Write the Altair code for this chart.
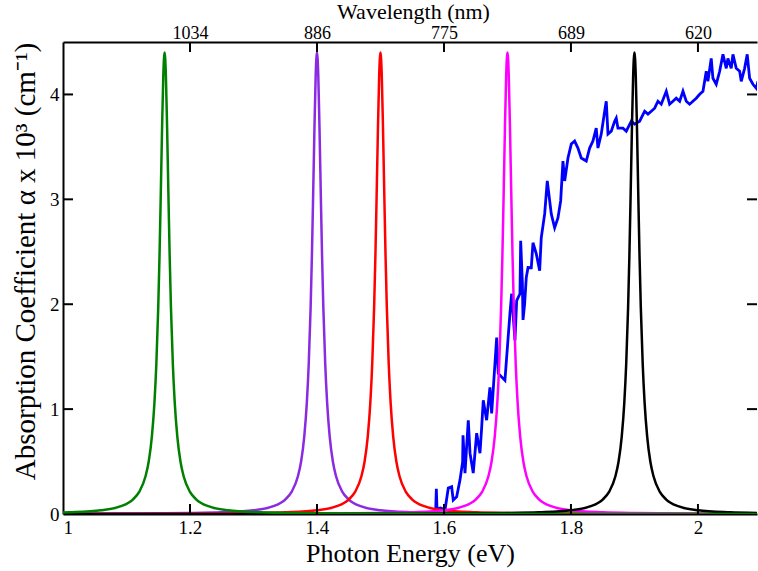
import altair as alt
import pandas as pd

# ---------------- data ----------------
x_ticks = [1, 1.2, 1.4, 1.6, 1.8, 2]
top_labels = ['1034', '886', '775', '689', '620']
y_ticks = [0, 1, 2, 3, 4]

# Peak profile heights (same for the five resonance peaks)
peak_y = [0.00036, 0.001, 0.0022, 0.004, 0.0089, 0.016, 0.035, 0.072, 0.138, 0.21,
          0.36, 0.50, 0.74, 1.06, 1.43, 1.97, 2.46, 3.05, 3.67, 4.19, 4.40,
          4.19, 3.67, 3.05, 2.46, 1.97, 1.43, 1.06, 0.74, 0.50, 0.36,
          0.21, 0.138, 0.072, 0.035, 0.016, 0.0089, 0.004, 0.0022, 0.001, 0.00036]

green_x = [0.16, 0.56, 0.76, 0.86, 0.96, 1.01, 1.06, 1.09, 1.11, 1.12, 1.13, 1.135, 1.14,
           1.144, 1.147, 1.15, 1.152, 1.154, 1.156, 1.158, 1.16, 1.162, 1.164, 1.166,
           1.168, 1.17, 1.173, 1.176, 1.18, 1.185, 1.19, 1.2, 1.21, 1.23, 1.26, 1.31,
           1.36, 1.46, 1.56, 1.76, 2.16]
purple_x = [0.40, 0.80, 1.00, 1.10, 1.20, 1.25, 1.30, 1.33, 1.35, 1.36, 1.37, 1.375, 1.38,
            1.384, 1.387, 1.39, 1.392, 1.394, 1.396, 1.398, 1.40, 1.402, 1.404, 1.406,
            1.408, 1.41, 1.413, 1.416, 1.42, 1.425, 1.43, 1.44, 1.45, 1.47, 1.50, 1.55,
            1.60, 1.70, 1.80, 2.00, 2.40]
red_x = [0.50, 0.90, 1.10, 1.20, 1.30, 1.35, 1.40, 1.43, 1.45, 1.46, 1.47, 1.475, 1.48,
         1.484, 1.487, 1.49, 1.492, 1.494, 1.496, 1.498, 1.50, 1.502, 1.504, 1.506,
         1.508, 1.51, 1.513, 1.516, 1.52, 1.525, 1.53, 1.54, 1.55, 1.57, 1.60, 1.65,
         1.70, 1.80, 1.90, 2.10, 2.50]
magenta_x = [0.70, 1.10, 1.30, 1.40, 1.50, 1.55, 1.60, 1.63, 1.65, 1.66, 1.67, 1.675, 1.68,
             1.684, 1.687, 1.69, 1.692, 1.694, 1.696, 1.698, 1.70, 1.702, 1.704, 1.706,
             1.708, 1.71, 1.713, 1.716, 1.72, 1.725, 1.73, 1.74, 1.75, 1.77, 1.80, 1.85,
             1.90, 2.00, 2.10, 2.30, 2.70]
black_x = [0.90, 1.30, 1.50, 1.60, 1.70, 1.75, 1.80, 1.83, 1.85, 1.86, 1.87, 1.875, 1.88,
           1.884, 1.887, 1.89, 1.892, 1.894, 1.896, 1.898, 1.90, 1.902, 1.904, 1.906,
           1.908, 1.91, 1.913, 1.916, 1.92, 1.925, 1.93, 1.94, 1.95, 1.97, 2.00, 2.05,
           2.10, 2.20, 2.30, 2.50, 2.90]

# Measured absorption spectrum (blue)
blue_x = [1.587, 1.588, 1.589, 1.5948, 1.6016, 1.6068, 1.6121, 1.6146, 1.620, 1.6252,
          1.6294, 1.630, 1.6331, 1.6383, 1.641, 1.6461, 1.6515, 1.6567, 1.6594, 1.6619,
          1.6672, 1.6724, 1.6751, 1.683, 1.6855, 1.696, 1.6987, 1.7039, 1.7066, 1.7118,
          1.7145, 1.7197, 1.7208, 1.7235, 1.7245, 1.727, 1.7296, 1.7324, 1.7375, 1.7402,
          1.7454, 1.7507, 1.7532, 1.7586, 1.7627, 1.7665, 1.769, 1.7743, 1.7795, 1.7838,
          1.7874, 1.7901, 1.7953, 1.8005, 1.8058, 1.811, 1.8162, 1.8241, 1.8294, 1.8346,
          1.8398, 1.8425, 1.8477, 1.8531, 1.8556, 1.8583, 1.8635, 1.8688, 1.8713, 1.874,
          1.8819, 1.8871, 1.895, 1.9003, 1.9082, 1.9161, 1.9213, 1.9265, 1.9318, 1.937,
          1.9422, 1.9501, 1.9554, 1.9606, 1.9658, 1.9712, 1.9764, 1.9816, 1.9869, 1.9921,
          1.9973, 2.0027, 2.0079, 2.0131, 2.0157, 2.0209, 2.0236, 2.0288, 2.0342, 2.0394,
          2.0446, 2.0472, 2.0524, 2.0551, 2.0603, 2.0657, 2.0682, 2.0735, 2.0776, 2.0814,
          2.0866, 2.0918, 2.0945]
blue_y = [0.04, 0.24, 0.05, 0.057, 0.038, 0.247, 0.26, 0.133, 0.164, 0.323,
          0.497, 0.751, 0.39, 0.894, 0.58, 0.39, 0.77, 0.58, 0.827, 1.084,
          0.894, 1.207, 0.96, 1.683, 1.34, 1.274, 1.492, 1.911, 2.10, 1.654,
          2.034, 2.10, 2.605, 2.20, 1.85, 2.0, 2.253, 2.35, 2.348, 2.586,
          2.481, 2.319, 2.633, 2.861, 3.175, 2.985, 2.861, 2.729, 2.823, 2.985,
          3.365, 3.175, 3.394, 3.527, 3.555, 3.489, 3.394, 3.365, 3.489, 3.555,
          3.679, 3.489, 3.622, 3.84, 3.935, 3.622, 3.65, 3.745, 3.774, 3.679,
          3.679, 3.65, 3.745, 3.717, 3.745, 3.84, 3.812, 3.84, 3.869, 3.935,
          3.907, 4.03, 3.907, 3.935, 3.964, 3.935, 4.03, 3.935, 3.907, 3.935,
          3.964, 4.002, 4.03, 4.221, 4.125, 4.344, 4.154, 4.097, 4.221, 4.382,
          4.249, 4.344, 4.249, 4.382, 4.249, 4.221, 4.125, 4.249, 4.382, 4.154,
          4.097, 4.059, 4.125]

# ---------------- chart ----------------
W, H = 694, 472
FONT = 'Liberation Serif'
xs = alt.Scale(domain=[1, 2.093], nice=False, zero=False)
ys = alt.Scale(domain=[0, 4.5], nice=False, zero=False)


def line(xv, yv, color, width=2.5, interp='monotone', xaxis=None, yaxis=None):
    df = pd.DataFrame({'x': xv, 'y': yv})
    return alt.Chart(df).mark_line(color=color, strokeWidth=width, clip=True,
                                   interpolate=interp).encode(
        x=alt.X('x:Q', scale=xs, axis=xaxis),
        y=alt.Y('y:Q', scale=ys, axis=yaxis))


bottom_axis = alt.Axis(values=x_ticks, format='~g', title='Photon Energy (eV)',
                       orient='bottom', labelPadding=4, titlePadding=3,
                       labelFontSize=19, titleFontSize=26)
left_axis = alt.Axis(values=y_ticks, format='~g',
                     title='Absorption Coefficient  \u03b1 x 10\u00b3 (cm\u207b\u00b9)',
                     orient='left', labelPadding=4, titlePadding=9, titleY=219,
                     labelFontSize=19, titleFontSize=29)

expr = ''
for v, lab in zip(x_ticks[1:], top_labels):
    expr += f"abs(datum.value - {v}) < 0.01 ? '{lab}' : "
expr += "''"
top_axis = alt.Axis(values=x_ticks[1:], labelExpr=expr, title='Wavelength (nm)',
                    orient='top', labelPadding=0,
                    titleX=350, titleY=-24, titleBaseline='alphabetic',
                    labelFontSize=18, titleFontSize=22)

blue = line(blue_x, blue_y, '#0000ff', width=2.8, interp='linear',
            xaxis=bottom_axis, yaxis=left_axis)
purple = line(purple_x, peak_y, '#8a2be2')
red = line(red_x, peak_y, '#ff0000')
magenta = line(magenta_x, peak_y, '#ff00ff')
black = line(black_x, peak_y, '#000000')
green = line(green_x, peak_y, '#008000')

xt = pd.DataFrame({'x': x_ticks[1:]})
yt = pd.DataFrame({'y': y_ticks[1:]})
top_ticks = alt.Chart(xt).mark_rule(color='black', strokeWidth=2).encode(
    x=alt.X('x:Q', scale=xs, axis=top_axis), y=alt.value(0), y2=alt.value(10))
bottom_ticks = alt.Chart(xt).mark_rule(color='black', strokeWidth=2).encode(
    x=alt.X('x:Q', scale=xs, axis=None), y=alt.value(H), y2=alt.value(H - 10))
left_ticks = alt.Chart(yt).mark_rule(color='black', strokeWidth=2).encode(
    y=alt.Y('y:Q', scale=ys, axis=None), x=alt.value(0), x2=alt.value(10))
right_ticks = alt.Chart(yt).mark_rule(color='black', strokeWidth=2).encode(
    y=alt.Y('y:Q', scale=ys, axis=None), x=alt.value(W), x2=alt.value(W - 10))

chart = alt.layer(
    blue, purple, red, magenta, black, green,
    top_ticks, bottom_ticks, left_ticks, right_ticks
).resolve_axis(x='independent', y='independent').properties(
    width=W, height=H,
    autosize=alt.AutoSizeParams(type='none'),
    padding={'left': 63, 'top': 42, 'right': 1, 'bottom': 57},
    background='white'
).configure_view(stroke=None).configure_axis(
    labelFont=FONT, titleFont=FONT, labelColor='black', titleColor='black',
    titleFontWeight='normal', domainColor='black', domainWidth=2, grid=False,
    ticks=False
)

chart.save('out.html', embed_options={'renderer': 'svg', 'actions': False})
